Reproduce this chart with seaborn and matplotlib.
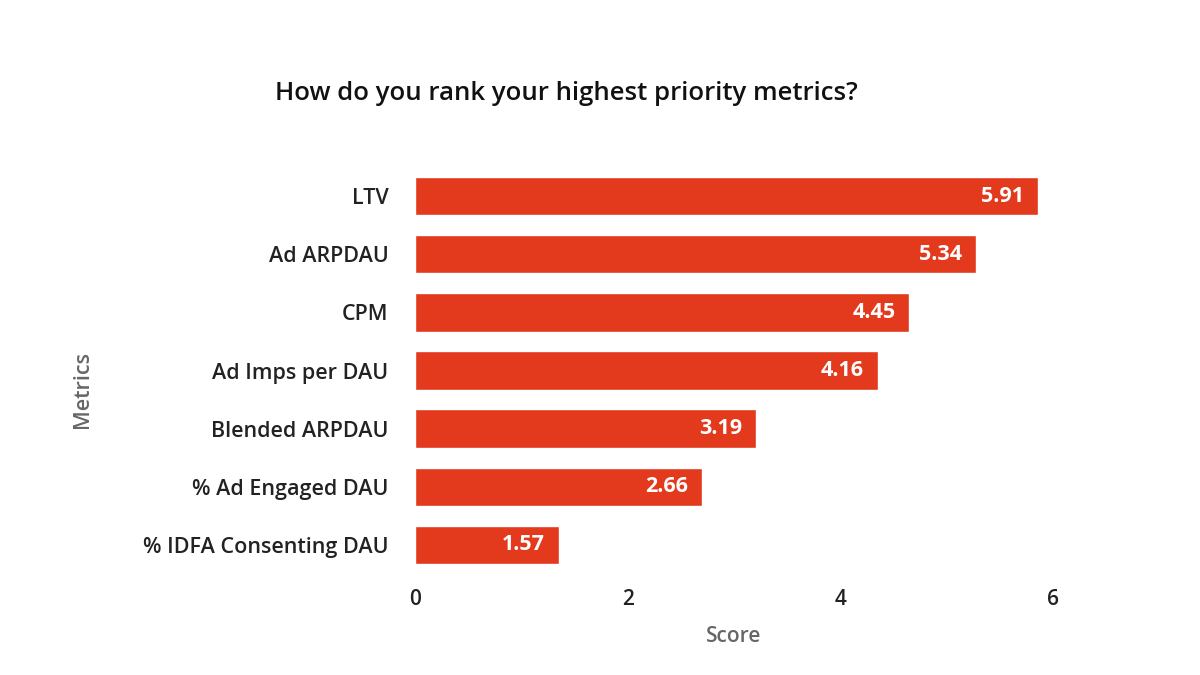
import matplotlib
matplotlib.use("Agg")
import matplotlib.pyplot as plt
import seaborn as sns
import pandas as pd

metrics = ["LTV", "Ad ARPDAU", "CPM", "Ad Imps per DAU", "Blended ARPDAU",
           "% Ad Engaged DAU", "% IDFA Consenting DAU"]
# bar lengths as drawn in the reference
bar_lengths = [5.86, 5.28, 4.65, 4.35, 3.21, 2.70, 1.35]
# value labels as printed on the bars
score_labels = ["5.91", "5.34", "4.45", "4.16", "3.19", "2.66", "1.57"]
x_ticks = [0, 2, 4, 6]

df = pd.DataFrame({"Metrics": metrics, "Score": bar_lengths})

sns.set_theme(style="white")
plt.rcParams['font.family'] = ['Open Sans', 'DejaVu Sans']

fig = plt.figure(figsize=(12, 6.75), dpi=100)
ax = fig.add_axes([415/1200, 1-574/675, (1053-415)/1200, (574-167)/675])

sns.barplot(data=df, x="Score", y="Metrics", orient="h", color="#E3391D",
            saturation=1, width=0.66, ax=ax)

for i, (v, lab) in enumerate(zip(bar_lengths, score_labels)):
    ax.annotate(lab, xy=(v, i), xytext=(-14, 0), textcoords="offset pixels",
                ha="right", va="center", color="white", fontsize=15.5,
                fontweight="bold")

ax.set_xlim(0, 6)
ax.set_ylim(6.5, -0.5)
ax.set_xticks(x_ticks)
ax.set_xticklabels([str(t) for t in x_ticks])
ax.tick_params(axis="x", length=0, pad=11, labelsize=15, labelcolor="#222222")
ax.tick_params(axis="y", length=0, pad=19, labelsize=15.5, labelcolor="#222222")
for lbl in ax.get_xticklabels() + ax.get_yticklabels():
    lbl.set_fontweight("semibold")
for s in ax.spines.values():
    s.set_visible(False)
ax.grid(False)

ax.set_xlabel("Score", fontsize=15, color="#666666", fontweight="semibold", labelpad=11)
ax.set_ylabel("")
fig.text(83/1200, 1-389/675, "Metrics", rotation=90, ha="center", va="center",
         fontsize=15.5, color="#666666", fontweight="semibold")

fig.text(566/1200, 1-93/675, "How do you rank your highest priority metrics?",
         ha="center", va="center", fontsize=18.5, fontweight="semibold", color="#111111")

fig.savefig("out.png", dpi=100)
